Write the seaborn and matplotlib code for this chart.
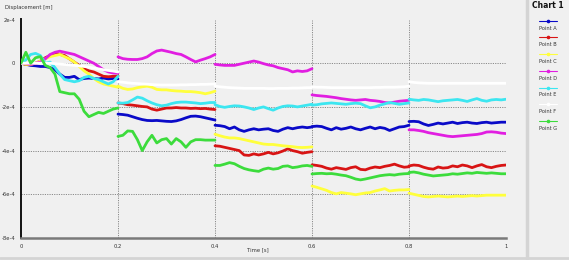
import numpy as np
import pandas as pd
import matplotlib
matplotlib.use("Agg")
import matplotlib.pyplot as plt
import seaborn as sns

# ---------------- data (displacement in units of 1e-4 m) ----------------
segment_starts = [0.0, 0.2, 0.4, 0.6, 0.8]
sample_step = 0.01  # 21 samples per 0.2 s segment

series_names = ["Point A", "Point B", "Point C", "Point D", "Point E", "Point F", "Point G"]

point_a = [
    [0, -0.05, -0.1, -0.12, -0.15, -0.15, -0.2, -0.3, -0.5, -0.65, -0.65, -0.6, -0.75, -0.7, -0.68, -0.7, -0.72, -0.68, -0.72, -0.7, -0.72],
    [-2.33, -2.35, -2.38, -2.45, -2.52, -2.58, -2.62, -2.63, -2.62, -2.64, -2.66, -2.67, -2.64, -2.58, -2.5, -2.43, -2.42, -2.45, -2.5, -2.55, -2.6],
    [-2.84, -2.86, -2.9, -3.0, -2.92, -3.05, -3.12, -3.05, -3.0, -3.05, -3.02, -3.0, -3.08, -3.12, -3.02, -2.95, -3.0, -2.95, -2.92, -2.95, -2.92],
    [-2.9, -2.88, -2.9, -2.98, -3.05, -2.95, -3.02, -2.98, -2.92, -3.0, -3.05, -2.98, -2.92, -3.0, -2.94, -2.98, -3.08, -3.0, -2.92, -2.9, -2.84],
    [-2.67, -2.66, -2.68, -2.78, -2.85, -2.8, -2.74, -2.78, -2.74, -2.7, -2.76, -2.72, -2.7, -2.74, -2.76, -2.72, -2.7, -2.74, -2.72, -2.7, -2.7],
]
point_b = [
    [0, -0.05, -0.05, 0.0, 0.1, 0.25, 0.35, 0.45, 0.4, 0.35, 0.2, 0.05, -0.1, -0.25, -0.35, -0.4, -0.5, -0.6, -0.62, -0.6, -0.58],
    [-1.82, -1.85, -1.9, -1.92, -1.95, -1.98, -2.0, -2.1, -2.15, -2.1, -2.05, -2.05, -2.03, -2.05, -2.05, -2.07, -2.06, -2.08, -2.07, -2.1, -2.12],
    [-3.78, -3.8, -3.85, -3.9, -3.95, -4.0, -4.2, -4.22, -4.15, -4.2, -4.15, -4.08, -4.15, -4.1, -4.02, -3.92, -4.0, -4.05, -4.12, -4.08, -4.05],
    [-4.65, -4.68, -4.72, -4.8, -4.85, -4.78, -4.82, -4.86, -4.78, -4.74, -4.86, -4.88, -4.8, -4.75, -4.78, -4.72, -4.68, -4.62, -4.7, -4.76, -4.74],
    [-4.7, -4.66, -4.68, -4.76, -4.82, -4.85, -4.75, -4.8, -4.78, -4.7, -4.74, -4.66, -4.7, -4.78, -4.7, -4.64, -4.74, -4.78, -4.72, -4.68, -4.66],
]
point_c = [
    [0, -0.05, -0.05, 0.0, 0.1, 0.2, 0.3, 0.35, 0.4, 0.3, 0.2, 0.05, -0.15, -0.35, -0.5, -0.7, -0.85, -0.95, -1.0, -1.05, -1.1],
    [-1.05, -1.15, -1.2, -1.18, -1.12, -1.08, -1.05, -1.1, -1.2, -1.22, -1.22, -1.25, -1.27, -1.28, -1.3, -1.3, -1.32, -1.35, -1.4, -1.35, -1.28],
    [-3.25, -3.32, -3.38, -3.42, -3.42, -3.45, -3.5, -3.55, -3.6, -3.65, -3.7, -3.72, -3.72, -3.75, -3.78, -3.8, -3.82, -3.85, -3.86, -3.85, -3.83],
    [-5.62, -5.68, -5.75, -5.82, -5.92, -5.98, -5.92, -5.95, -5.98, -6.02, -5.98, -5.94, -5.92, -5.85, -5.8, -5.74, -5.85, -5.82, -5.8, -5.8, -5.78],
    [-5.95, -6.0, -6.05, -6.1, -6.12, -6.1, -6.08, -6.1, -6.12, -6.1, -6.08, -6.1, -6.08, -6.06, -6.08, -6.06, -6.04, -6.04, -6.04, -6.04, -6.04],
]
point_d = [
    [0, 0.0, -0.05, 0.0, 0.05, 0.2, 0.4, 0.5, 0.55, 0.5, 0.45, 0.4, 0.3, 0.2, 0.1, 0.0, -0.15, -0.3, -0.4, -0.45, -0.45],
    [0.29, 0.21, 0.18, 0.17, 0.17, 0.21, 0.29, 0.44, 0.56, 0.6, 0.55, 0.5, 0.44, 0.4, 0.29, 0.17, 0.06, 0.14, 0.21, 0.29, 0.4],
    [-0.05, -0.08, -0.1, -0.1, -0.1, -0.05, 0.0, 0.05, 0.1, 0.05, -0.02, -0.08, -0.12, -0.2, -0.25, -0.3, -0.4, -0.35, -0.38, -0.35, -0.25],
    [-1.45, -1.48, -1.5, -1.52, -1.55, -1.58, -1.62, -1.65, -1.68, -1.7, -1.68, -1.66, -1.7, -1.72, -1.75, -1.8, -1.82, -1.78, -1.74, -1.72, -1.7],
    [-3.05, -3.05, -3.08, -3.12, -3.18, -3.22, -3.26, -3.3, -3.34, -3.36, -3.34, -3.32, -3.3, -3.28, -3.26, -3.22, -3.15, -3.14, -3.16, -3.2, -3.22],
]
point_e = [
    [0, 0.15, 0.4, 0.45, 0.35, 0.0, 0.05, -0.2, -0.5, -0.75, -0.8, -0.85, -0.8, -0.65, -0.6, -0.7, -0.75, -0.85, -0.95, -0.85, -0.6],
    [-1.82, -1.83, -1.8, -1.68, -1.55, -1.6, -1.72, -1.82, -1.9, -1.95, -1.92, -1.85, -1.8, -1.78, -1.78, -1.8, -1.82, -1.85, -1.83, -1.8, -1.8],
    [-1.9, -1.98, -2.02, -1.98, -1.95, -1.96, -2.0, -2.05, -2.12, -2.05, -2.0, -2.08, -2.15, -2.05, -1.98, -1.95, -1.96, -2.0, -1.96, -1.92, -1.88],
    [-1.92, -1.9, -1.86, -1.84, -1.82, -1.84, -1.86, -1.88, -1.85, -1.83, -1.85, -1.95, -2.04, -2.0, -1.92, -1.86, -1.8, -1.84, -1.88, -1.85, -1.82],
    [-1.65, -1.68, -1.7, -1.66, -1.68, -1.72, -1.76, -1.72, -1.7, -1.68, -1.66, -1.7, -1.75, -1.68, -1.62, -1.7, -1.74, -1.68, -1.66, -1.68, -1.65],
]
point_f = [
    [0, 0.0, 0.0, 0.0, 0.0, 0.0, 0.0, -0.02, -0.04, -0.06, -0.08, -0.1, -0.12, -0.15, -0.18, -0.22, -0.26, -0.3, -0.33, -0.36, -0.4],
    [-0.85, -0.87, -0.9, -0.92, -0.93, -0.95, -0.96, -0.98, -0.99, -1.0, -1.0, -1.0, -1.0, -0.99, -0.99, -0.98, -0.98, -0.97, -0.97, -0.96, -0.95],
    [-1.05, -1.08, -1.1, -1.12, -1.13, -1.14, -1.15, -1.15, -1.15, -1.15, -1.15, -1.16, -1.16, -1.15, -1.15, -1.15, -1.14, -1.14, -1.13, -1.12, -1.12],
    [-1.08, -1.1, -1.1, -1.11, -1.12, -1.12, -1.12, -1.12, -1.12, -1.12, -1.12, -1.12, -1.12, -1.11, -1.11, -1.1, -1.1, -1.1, -1.09, -1.08, -1.05],
    [-0.85, -0.88, -0.9, -0.91, -0.92, -0.92, -0.92, -0.92, -0.92, -0.92, -0.92, -0.92, -0.92, -0.92, -0.92, -0.92, -0.92, -0.92, -0.92, -0.92, -0.92],
]
point_g = [
    [0, 0.5, 0.0, 0.25, 0.3, -0.1, -0.2, -0.5, -1.3, -1.35, -1.4, -1.4, -1.65, -2.2, -2.45, -2.35, -2.25, -2.3, -2.2, -2.1, -2.05],
    [-3.35, -3.3, -3.1, -3.12, -3.5, -4.0, -3.6, -3.3, -3.65, -3.5, -3.45, -3.7, -3.45, -3.6, -3.85, -3.6, -3.5, -3.5, -3.52, -3.52, -3.52],
    [-4.68, -4.68, -4.62, -4.55, -4.6, -4.72, -4.82, -4.88, -4.92, -4.95, -4.85, -4.8, -4.85, -4.82, -4.72, -4.7, -4.78, -4.75, -4.7, -4.68, -4.72],
    [-5.07, -5.05, -5.04, -5.06, -5.05, -5.08, -5.12, -5.15, -5.22, -5.3, -5.34, -5.3, -5.25, -5.2, -5.15, -5.12, -5.1, -5.12, -5.08, -5.06, -5.05],
    [-5.0, -4.98, -5.02, -5.08, -5.12, -5.16, -5.14, -5.12, -5.1, -5.06, -5.08, -5.05, -5.02, -5.04, -5.0, -5.02, -5.04, -5.02, -5.04, -5.06, -5.06],
]

x_ticks = [0, 0.2, 0.4, 0.6, 0.8, 1.0]
x_tick_labels = ["0", "0.2", "0.4", "0.6", "0.8", "1"]
y_ticks = [2e-4, 0, -2e-4, -4e-4, -6e-4, -8e-4]
y_tick_labels = ["2e-4", "0", "-2e-4", "-4e-4", "-6e-4", "-8e-4"]

colors = {
    "Point A": "#0a0ac8",
    "Point B": "#d81414",
    "Point C": "#ffff3c",
    "Point D": "#e11ee1",
    "Point E": "#3ce6f0",
    "Point F": "#ffffff",
    "Point G": "#3cdc3c",
}

# ---------------- build long-form table ----------------
all_series = [point_a, point_b, point_c, point_d, point_e, point_f, point_g]
rows = []
for name, segs in zip(series_names, all_series):
    for k, (start, vals) in enumerate(zip(segment_starts, segs)):
        for j, v in enumerate(vals):
            rows.append({"t": start + j * sample_step, "disp": v * 1e-4,
                         "series": name, "seg": k})
df = pd.DataFrame(rows)

# ---------------- draw ----------------
sns.set_style("white")
plt.rcParams["font.family"] = ["DejaVu Sans"]
bg = "#f0f0f0"
fig = plt.figure(figsize=(5.69, 2.60), dpi=100, facecolor=bg)
ax = fig.add_axes([21 / 569, (260 - 238) / 260, (506 - 21) / 569, (238 - 19.5) / 260])
ax.set_facecolor(bg)

sns.lineplot(data=df, x="t", y="disp", hue="series", units="seg", estimator=None,
             palette=colors, linewidth=2.0, legend=False, ax=ax, zorder=3)

ax.set_xlim(0, 1)
ax.set_ylim(-8e-4, 2e-4)
ax.set_xticks(x_ticks)
ax.set_xticklabels(x_tick_labels)
ax.set_yticks(y_ticks)
ax.set_yticklabels(y_tick_labels)
ax.tick_params(axis="both", labelsize=3.8, length=2.5, width=0.6, pad=1.5,
               colors="#333333", direction="out")
ax.set_xlabel("")
ax.set_ylabel("")

for x in [0.2, 0.4, 0.6, 0.8, 1.0]:
    ax.axvline(x, color="#8a8a8a", lw=0.7, ls=(0, (1.2, 1.2)), zorder=1)
for y in [2e-4, 0, -2e-4, -4e-4, -6e-4]:
    ax.axhline(y, color="#8a8a8a", lw=0.7, ls=(0, (1.2, 1.2)), zorder=1)

for s in ["top", "right"]:
    ax.spines[s].set_visible(False)
ax.spines["left"].set_color("#111111")
ax.spines["left"].set_linewidth(1.4)
ax.spines["bottom"].set_color("#7a7a7a")
ax.spines["bottom"].set_linewidth(1.8)

fig.text(5 / 569, 1 - 8 / 260, "Displacement [m]", fontsize=3.8, color="#333333",
         ha="left", va="center")
fig.text(258 / 569, 1 - 250 / 260, "Time [s]", fontsize=3.8, color="#333333",
         ha="center", va="center")

# separators
fig.add_artist(plt.Line2D([526.5 / 569, 526.5 / 569], [2 / 260, 1], color="#d4d4d4", lw=2.5))
fig.add_artist(plt.Line2D([0, 1], [2.5 / 260, 2.5 / 260], color="#d4d4d4", lw=2.0))

# legend panel
fig.text(548 / 569, 1 - 5 / 260, "Chart 1", fontsize=5.5, fontweight="bold",
         ha="center", va="center", color="#111111")
leg_line_y = [20.7, 37.3, 54, 71, 87.7, 104.3, 121]
for name, yy in zip(series_names, leg_line_y):
    c = colors[name]
    fig.add_artist(plt.Line2D([539 / 569, 557 / 569], [1 - yy / 260, 1 - yy / 260],
                              color=c, lw=0.8))
    fig.add_artist(plt.Line2D([548 / 569], [1 - yy / 260], color=c, marker="o",
                              markersize=1.6, lw=0))
    fig.text(548 / 569, 1 - (yy + 7.3) / 260, name, fontsize=3.6, ha="center",
             va="center", color="#333333")

fig.savefig("out.png", dpi=100, facecolor=bg)
